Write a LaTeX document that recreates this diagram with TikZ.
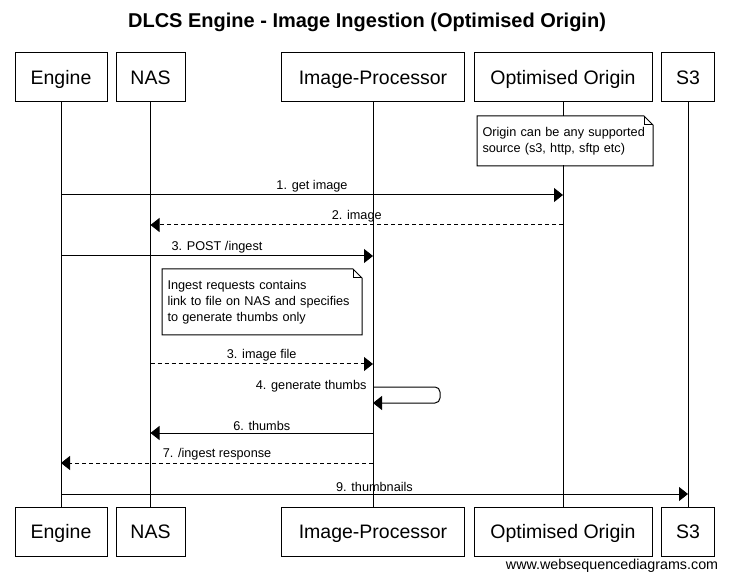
\documentclass[tikz,border=0pt]{standalone}
\usepackage{fontspec}
\setmainfont{Liberation Sans}
\usetikzlibrary{arrows.meta}

\begin{document}
\begin{tikzpicture}
  [x=1pt,y=-1pt,line width=1pt,
   actor/.style={draw,minimum height=49pt,inner sep=0pt,text height=14pt,text depth=0pt,font=\fontsize{19.5}{22}\selectfont},
   call/.style={-{Triangle[length=9pt,width=14pt]}},
   reply/.style={call,dash pattern=on 4pt off 3pt},
   lbl/.style={font=\fontsize{12.7}{15}\selectfont,inner sep=2pt},
   note/.style={anchor=north west,align=left,fill=white,inner sep=5pt,font=\fontsize{12.7}{16}\selectfont}]
  \useasboundingbox (0,0) rectangle (729,580);

  \node [font=\bfseries\fontsize{20}{24}\selectfont] (title) at (367,22) {DLCS Engine - Image Ingestion (Optimised Origin)};

  \foreach \n/\x/\w/\t in {eng/61/92/Engine,nas/150.5/69/NAS,ip/373/183/Image-Processor,oo/563/178/Optimised Origin,s3/688/53/S3} {
    \node [actor,minimum width=\w pt] (\n-top) at (\x,77.5) {\t};
    \node [actor,minimum width=\w pt] (\n-bot) at (\x,531.5) {\t};
    \draw (\n-top) -- (\n-bot);
  }

  \node [note,text width=165pt,minimum height=49pt] (n1) at (477,116) {Origin can be any supported\\source (s3, http, sftp etc)};
  \node [note,text width=189pt,minimum height=65pt] (n2) at (162,269) {Ingest requests contains\\link to file on NAS and specifies\\to generate thumbs only};
  \foreach \n in {n1,n2} {
    \draw (\n.south west) -- (\n.north west) -- ([xshift=-9pt]\n.north east) -- ([yshift=-9pt]\n.north east) -- (\n.south east) -- cycle;
    \draw ([xshift=-9pt]\n.north east) |- ([yshift=-9pt]\n.north east);
  }

  \foreach \from/\to/\y/\s/\txt in {eng/oo/195/call/{1. get image},oo/nas/225/reply/{2. image},eng/ip/256/call/{3. POST /ingest},nas/ip/364/reply/{3. image file},ip/nas/433/call/{6. thumbs},ip/eng/463/reply/{7. /ingest response},eng/s3/494/call/{9. thumbnails}}
    \draw [\s] (\from-top |- 0,\y) -- (\to-top |- 0,\y) node [lbl,midway,above] {\txt};

  \draw [call,rounded corners=5pt] (ip-top |- 0,387) -- (440,387) -- (440,403) -- (ip-top |- 0,403);
  \node [lbl,anchor=east] (m4) at (369,386) {4. generate thumbs};

  \node [anchor=east,font=\fontsize{14.3}{17}\selectfont] (wsd) at (722,566) {www.websequencediagrams.com};
\end{tikzpicture}
\end{document}
